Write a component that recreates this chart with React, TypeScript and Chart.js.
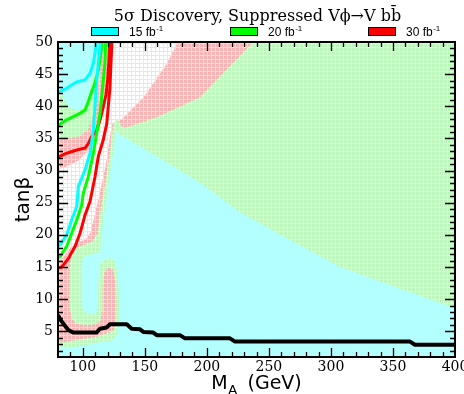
import React, { useEffect, useRef } from 'react';
import { Chart, registerables } from 'chart.js';

Chart.register(...registerables);

type Pt = [number, number];

// ---- text ----
const chartTitle = '5σ Discovery, Suppressed Vϕ→V bb\u0304';
const legendLabels = ['15 fb', '20 fb', '30 fb'];
const legendSup = '-1';
const legendColors = ['#00ffff', '#00ff00', '#ff0000'];
const yTitle = 'tanβ';
const xTitleMain = 'M';
const xTitleSub = 'A';
const xTitleRest = '(GeV)';

// ---- axes ----
const xRange: Pt = [80, 400];
const yRange: Pt = [1, 50];
const xTicks = [100, 150, 200, 250, 300, 350, 400];
const yTicks = [5, 10, 15, 20, 25, 30, 35, 40, 45, 50];

// ---- filled regions (MA, tanβ) ----
const regionAll: Pt[] = [[80, 1], [400, 1], [400, 50], [80, 50]];

const region30Main: Pt[] = [
  [80, 1], [400, 1], [400, 50], [176.5, 50], [168, 46.7], [149, 41.4], [131, 37.9], [124, 37.4],
  [122, 35.5], [119.5, 32], [116.5, 29], [113, 26], [109.5, 23], [106, 20.3], [103, 19.5], [97, 18.8],
  [90, 18], [84, 16.5], [80, 16],
];
const region30Upper: Pt[] = [
  [80, 50], [122, 50], [120.5, 46], [119, 42.5], [116, 38.5], [111, 35.3], [104, 33], [96, 31.5],
  [88, 30.7], [80, 30.2],
];
const region20Main: Pt[] = [
  [80, 1], [400, 1], [400, 50], [237.2, 50], [221, 46.7], [194.5, 41.4], [159.8, 38.3], [133, 36.6],
  [127, 38], [124.5, 37], [123, 34.5], [120.5, 31], [117.5, 27.5], [114.5, 24], [112, 20.3], [108, 19],
  [102, 18.5], [95, 18], [91, 17], [89.5, 15], [89, 12], [89.5, 9], [91, 7], [94, 6.2], [100, 6],
  [108, 6], [114, 6.5], [115.5, 8], [116, 12], [117.5, 14.3], [121, 15], [124.5, 14.5], [126.5, 12.5],
  [127, 9], [126.5, 6], [124, 5], [118, 4.6], [112, 4.2], [100, 3.8], [88, 3.4], [80, 3.2],
];
const region20Upper: Pt[] = [
  [80, 50], [116.5, 50], [114.5, 46.5], [111.5, 42], [108, 38.5], [104, 36.3], [97, 35.3], [88, 35],
  [80, 34.8],
];
const region15Main: Pt[] = [
  [126.5, 36.3], [129, 35.7], [162.2, 31.9], [194.5, 28.1], [226.7, 23.5], [267, 19.2], [307.3, 15],
  [347.6, 12.2], [387.9, 9.4], [400, 8.6], [400, 1], [80, 1], [80, 2.4], [92, 2.5], [104, 2.9],
  [114, 3.3], [124, 3.6], [128, 4.5], [129, 7], [129, 11], [128, 14], [126, 15.8], [122, 16.4],
  [117, 16.2], [114, 15.5], [112.5, 13], [112, 9], [111, 7.8], [107, 7.6], [102, 7.9], [99.5, 8.8],
  [98.6, 11], [98.5, 14], [99.5, 16], [102, 16.8], [108, 17], [114, 17.3], [115.5, 21], [118.5, 25],
  [121.5, 29], [124.5, 33], [126, 35.2],
];
const region15Upper: Pt[] = [
  [80, 50], [113, 50], [111, 47], [108.5, 44.5], [105, 42], [101, 39.8], [95, 39.3], [88, 40],
  [84, 41.5], [80, 43.5],
];

// ---- contour lines ----
const cyanUpper: Pt[] = [
  [80, 42.2], [87, 42.8], [95.1, 43.8], [101.8, 44.1], [105.8, 45.1], [108.5, 46.7], [110, 48.5], [111, 50],
];
const cyanLower: Pt[] = [
  [80, 18.3], [81.6, 18.4], [87, 20], [91, 22.3], [95.1, 24.4], [96.4, 27.5], [101.8, 30.1], [105.8, 32.7],
  [108.5, 36.3], [109.8, 39.9], [111.2, 44.1], [113, 47.7], [114, 50],
];
const greenUpper: Pt[] = [
  [80, 37], [87, 37.9], [92.3, 38.4], [97.7, 38.9], [101.8, 39.4], [104.4, 40.7], [107.2, 42.3],
  [109.8, 43.6], [112.5, 45.6], [113.9, 47.2], [115.2, 49.3], [115.6, 50],
];
const greenLower: Pt[] = [
  [80, 16.5], [81.6, 16.6], [87, 18.2], [91, 20.2], [95.1, 22.3], [99.1, 24.6], [100.4, 26.5], [104.4, 29],
  [108.5, 32.7], [111.2, 35.8], [113.9, 38.9], [116, 43], [117.8, 46.7], [118.5, 50],
];
const redUpper: Pt[] = [
  [80, 32.1], [87, 32.7], [95.1, 33.2], [101.8, 33.5], [104.4, 34.2], [107.2, 35.3], [111.2, 36.3],
  [113.9, 37.9], [116.5, 39.9], [118.7, 41.8], [120, 44], [121, 47], [121.5, 50],
];
const redLower: Pt[] = [
  [80, 14.8], [83, 15], [88.3, 16.3], [93.7, 18.2], [97.7, 20.2], [101.8, 23.1], [105.8, 25.2],
  [109.8, 29], [112.5, 32.2], [116.5, 34.8], [119.3, 37.3], [120.5, 39.9], [121.9, 43], [122.7, 46.7],
  [123.5, 50],
];
const blackLine: Pt[] = [
  [80, 7.5], [82, 6.8], [84.3, 6.2], [88.3, 5.2], [92.3, 4.8], [111, 4.8], [113.9, 5.4], [119.3, 5.6],
  [121.9, 6.1], [135.4, 6.1], [139.4, 5.4], [146.1, 5.3], [148.8, 4.9], [156.8, 4.8], [159.6, 4.4],
  [178.3, 4.4], [182.4, 3.9], [218.6, 3.9], [222.7, 3.4], [363.7, 3.4], [367.7, 2.9], [400, 2.9],
];

const toXY = (pts: Pt[]) => pts.map(([x, y]) => ({ x, y }));

function makePattern(ctx: CanvasRenderingContext2D, base: string, grid: string) {
  const tile = document.createElement('canvas');
  tile.width = 4;
  tile.height = 4;
  const g = tile.getContext('2d')!;
  g.fillStyle = base;
  g.fillRect(0, 0, 4, 4);
  g.fillStyle = grid;
  g.fillRect(3, 0, 1, 4);
  g.fillRect(0, 3, 4, 1);
  return ctx.createPattern(tile, 'repeat')!;
}

const decorPlugin = {
  id: 'decor',
  afterDatasetsDraw(chart: any) {
    const { ctx, chartArea: a, scales } = chart;
    const xs = scales.x;
    const ys = scales.y;
    ctx.save();
    ctx.strokeStyle = '#000';
    ctx.lineWidth = 1.3;
    ctx.beginPath();
    for (let v = xRange[0] + 10; v < xRange[1]; v += 10) {
      const px = Math.round(xs.getPixelForValue(v)) + 0.5;
      const len = v % 50 === 0 ? 9 : 5;
      ctx.moveTo(px, a.bottom);
      ctx.lineTo(px, a.bottom - len);
      ctx.moveTo(px, a.top);
      ctx.lineTo(px, a.top + len);
    }
    for (let v = yRange[0] + 1; v < yRange[1]; v += 1) {
      const py = Math.round(ys.getPixelForValue(v)) + 0.5;
      const len = v % 5 === 0 ? 10 : 5;
      ctx.moveTo(a.left, py);
      ctx.lineTo(a.left + len, py);
      ctx.moveTo(a.right, py);
      ctx.lineTo(a.right - len, py);
    }
    ctx.stroke();
    ctx.lineWidth = 2;
    ctx.strokeRect(a.left, a.top, a.right - a.left, a.bottom - a.top);
    ctx.restore();
  },
  afterDraw(chart: any) {
    const { ctx, chartArea: a } = chart;
    const cx = (a.left + a.right) / 2;
    ctx.save();
    ctx.fillStyle = '#000';
    // title
    ctx.font = '16px "DejaVu Serif", serif';
    ctx.textAlign = 'center';
    ctx.textBaseline = 'alphabetic';
    ctx.fillText(chartTitle, cx + 1, 21);
    // legend
    ctx.textAlign = 'left';
    const boxLefts = [91, 230, 368];
    legendLabels.forEach((lab, i) => {
      const bx = boxLefts[i];
      ctx.fillStyle = legendColors[i];
      ctx.fillRect(bx, 27, 27, 8);
      ctx.strokeStyle = '#000';
      ctx.lineWidth = 1;
      ctx.strokeRect(bx + 0.5, 27.5, 27, 8);
      ctx.fillStyle = '#000';
      ctx.font = '12px "Liberation Sans", Arial, sans-serif';
      const tx = bx + 38;
      ctx.fillText(lab, tx, 35.5);
      const w = ctx.measureText(lab).width;
      ctx.font = '8px "Liberation Sans", Arial, sans-serif';
      ctx.fillText(legendSup, tx + w + 0.5, 30.5);
    });
    // x axis title
    ctx.font = '19px "DejaVu Sans", sans-serif';
    const mW = ctx.measureText(xTitleMain).width;
    const restW = ctx.measureText(xTitleRest).width;
    ctx.font = '13px "DejaVu Sans", sans-serif';
    const aW = ctx.measureText(xTitleSub).width;
    const gap = 11;
    const total = mW + aW + gap + restW;
    let x0 = cx - total / 2;
    ctx.font = '19px "DejaVu Sans", sans-serif';
    ctx.fillText(xTitleMain, x0, 389);
    x0 += mW;
    ctx.font = '13px "DejaVu Sans", sans-serif';
    ctx.fillText(xTitleSub, x0 + 0.5, 394);
    x0 += aW + gap;
    ctx.font = '19px "DejaVu Sans", sans-serif';
    ctx.fillText(xTitleRest, x0, 389);
    ctx.restore();
  },
};

export default function App() {
  const canvasRef = useRef<HTMLCanvasElement | null>(null);

  useEffect(() => {
    document.body.style.margin = '0';
    document.body.style.overflow = 'hidden';
    document.documentElement.style.overflow = 'hidden';
    const canvas = canvasRef.current!;
    const ctx = canvas.getContext('2d')!;

    const whitePat = makePattern(ctx, '#ffffff', '#cdf5ee');
    const pinkPat = makePattern(ctx, '#f8b4b4', '#fbd8d8');
    const greenPat = makePattern(ctx, '#bcf8bc', '#dcfcdc');
    const cyanFill = '#b3ffff';

    const region = (pts: Pt[], bg: any, order: number) => ({
      data: toXY(pts),
      backgroundColor: bg,
      borderColor: 'transparent',
      borderWidth: 0,
      pointRadius: 0,
      fill: 'shape',
      tension: 0,
      order,
    });
    const curve = (pts: Pt[], color: string, width: number, order: number) => ({
      data: toXY(pts),
      borderColor: color,
      backgroundColor: color,
      borderWidth: width,
      pointRadius: 0,
      fill: false,
      tension: 0,
      borderJoinStyle: 'round',
      borderCapStyle: 'butt',
      order,
    });

    const chart = new Chart(canvas, {
      type: 'line',
      data: {
        datasets: [
          region(regionAll, whitePat, 100),
          region(region30Main, pinkPat, 90),
          region(region30Upper, pinkPat, 85),
          region(region20Main, greenPat, 80),
          region(region20Upper, greenPat, 75),
          region(region15Main, cyanFill, 70),
          region(region15Upper, cyanFill, 65),
          curve(redUpper, '#ff0000', 3, 9),
          curve(redLower, '#ff0000', 3, 8),
          curve(greenUpper, '#00ff00', 3, 7),
          curve(greenLower, '#00ff00', 3, 6),
          curve(cyanUpper, '#00ffff', 3, 5),
          curve(cyanLower, '#00ffff', 3, 4),
          curve(blackLine, '#000000', 4, 1),
        ] as any,
      },
      options: {
        responsive: false,
        animation: false,
        events: [],
        layout: { padding: { top: 42, right: 25, left: 0, bottom: 0 } },
        plugins: {
          legend: { display: false },
          title: { display: false },
          tooltip: { enabled: false },
        },
        scales: {
          x: {
            type: 'linear',
            min: xRange[0],
            max: xRange[1],
            grid: { display: false, drawTicks: false },
            border: { display: false },
            ticks: {
              color: '#000',
              font: { family: '"DejaVu Serif", serif', size: 14 },
              padding: 2,
              maxRotation: 0,
              autoSkip: false,
            },
            afterBuildTicks: (s: any) => {
              s.ticks = xTicks.map((v) => ({ value: v }));
            },
            afterFit: (s: any) => {
              s.height = 37;
            },
          },
          y: {
            type: 'linear',
            min: yRange[0],
            max: yRange[1],
            grid: { display: false, drawTicks: false },
            border: { display: false },
            ticks: {
              color: '#000',
              font: { family: '"DejaVu Serif", serif', size: 14 },
              padding: 5,
              autoSkip: false,
            },
            title: {
              display: true,
              text: yTitle,
              color: '#000',
              font: { family: '"DejaVu Sans", sans-serif', size: 20 },
              padding: { top: 12, bottom: 0 },
            },
            afterBuildTicks: (s: any) => {
              s.ticks = yTicks.map((v) => ({ value: v }));
            },
            afterFit: (s: any) => {
              s.width = 58;
            },
          },
        },
      } as any,
      plugins: [decorPlugin],
    });
    return () => chart.destroy();
  }, []);

  return (
    <div style={{ width: 464, height: 394, overflow: 'hidden' }}>
      <canvas ref={canvasRef} width={480} height={394} style={{ display: 'block', width: 480, height: 394 }} />
    </div>
  );
}
